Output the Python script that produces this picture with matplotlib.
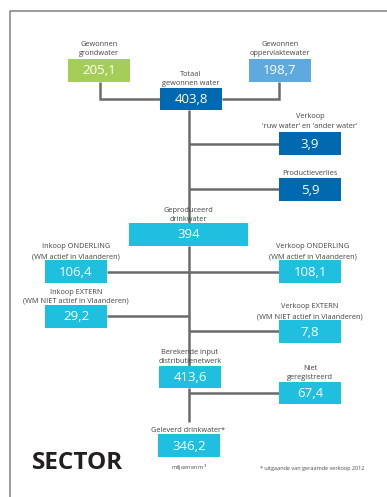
import matplotlib.pyplot as plt
from matplotlib.patches import Rectangle

plt.rcParams['font.family'] = ['Open Sans', 'DejaVu Sans']

# waterbalans sector (miljoenen m3)
labels = ['Gewonnen\ngrondwater', 'Gewonnen\noppervlaktewater', 'Totaal\ngewonnen water',
          "Verkoop\n'ruw water' en 'ander water'", 'Productieverlies',
          'Geproduceerd\ndrinkwater', 'Inkoop ONDERLING\n(WM actief in Vlaanderen)',
          'Verkoop ONDERLING\n(WM actief in Vlaanderen)',
          'Inkoop EXTERN\n(WM NIET actief in Vlaanderen)',
          'Verkoop EXTERN\n(WM NIET actief in Vlaanderen)',
          'Berekende input\ndistributienetwerk', 'Niet\ngeregistreerd',
          'Geleverd drinkwater*']
values = ['205,1', '198,7', '403,8', '3,9', '5,9', '394', '106,4', '108,1',
          '29,2', '7,8', '413,6', '67,4', '346,2']

# layout in pixels: x0, x1, y0, y1, colour
green = '#a4ce58'
lblue = '#5eaadf'
dblue = '#0069b0'
cyan = '#1fbfe0'
boxes = [
    (68, 130, 59, 82, green),
    (249, 311, 59, 82, lblue),
    (160, 222, 88, 110, dblue),
    (279, 341, 132, 155, dblue),
    (279, 341, 178, 201, dblue),
    (129, 248, 223, 246, cyan),
    (45, 107, 260, 283, cyan),
    (279, 341, 260, 283, cyan),
    (45, 107, 305, 328, cyan),
    (279, 341, 320, 343, cyan),
    (159, 221, 366, 388, cyan),
    (279, 341, 382, 404, cyan),
    (158, 220, 434, 457, cyan),
]
# label centre x and baseline of the last label line
label_pos = [(99, 55), (280, 55), (191, 85), (310, 128), (310, 175), (188, 221),
             (76, 258), (313, 258), (76, 303), (310, 318), (190, 363),
             (310, 379), (188, 432)]

W, H = 387, 497
fig = plt.figure(figsize=(W / 100, H / 100), dpi=100)
ax = fig.add_axes([0, 0, 1, 1])
ax.set_xlim(0, W)
ax.set_ylim(H, 0)
ax.axis('off')

# frame
ax.plot([10, 10, W], [H, 11, 11], color='#8a8a8a', lw=1.2, solid_capstyle='butt')

lc = '#6b6b6b'
lw = 1.8
segments = [
    ([100, 100, 160], [82, 99, 99]),
    ([279, 279, 222], [82, 99, 99]),
    ([189, 189], [110, 223]),
    ([189, 279], [144, 144]),
    ([189, 279], [189, 189]),
    ([189, 189], [246, 366]),
    ([107, 279], [272, 272]),
    ([107, 189], [316, 316]),
    ([189, 279], [331, 331]),
    ([189, 189], [388, 422]),
    ([189, 279], [393, 393]),
]
for xs, ys in segments:
    ax.plot(xs, ys, color=lc, lw=lw, solid_joinstyle='miter', solid_capstyle='butt', zorder=1)

for (x0, x1, y0, y1, c), val in zip(boxes, values):
    ax.add_patch(Rectangle((x0, y0), x1 - x0, y1 - y0, facecolor=c, edgecolor='none', zorder=2))
    ax.text((x0 + x1) / 2, (y0 + y1) / 2 + 0.5, val, color='white', fontsize=9.5,
            ha='center', va='center', zorder=3)

for (x, y), lab in zip(label_pos, labels):
    ax.text(x, y, lab, color='#444444', fontsize=5.3, ha='center', va='baseline',
            linespacing=1.5)

ax.text(32, 469, 'SECTOR', fontsize=17.5, fontweight='bold', color='#231f20',
        ha='left', va='baseline')
ax.text(189, 470, 'miljoenen m$^3$', fontsize=4, color='#4a4a4a', ha='center', va='baseline')
ax.text(312, 470, '* uitgaande van geraamde verkoop 2012', fontsize=4, color='#4a4a4a',
        ha='center', va='baseline')

fig.savefig('out.png', dpi=100)
